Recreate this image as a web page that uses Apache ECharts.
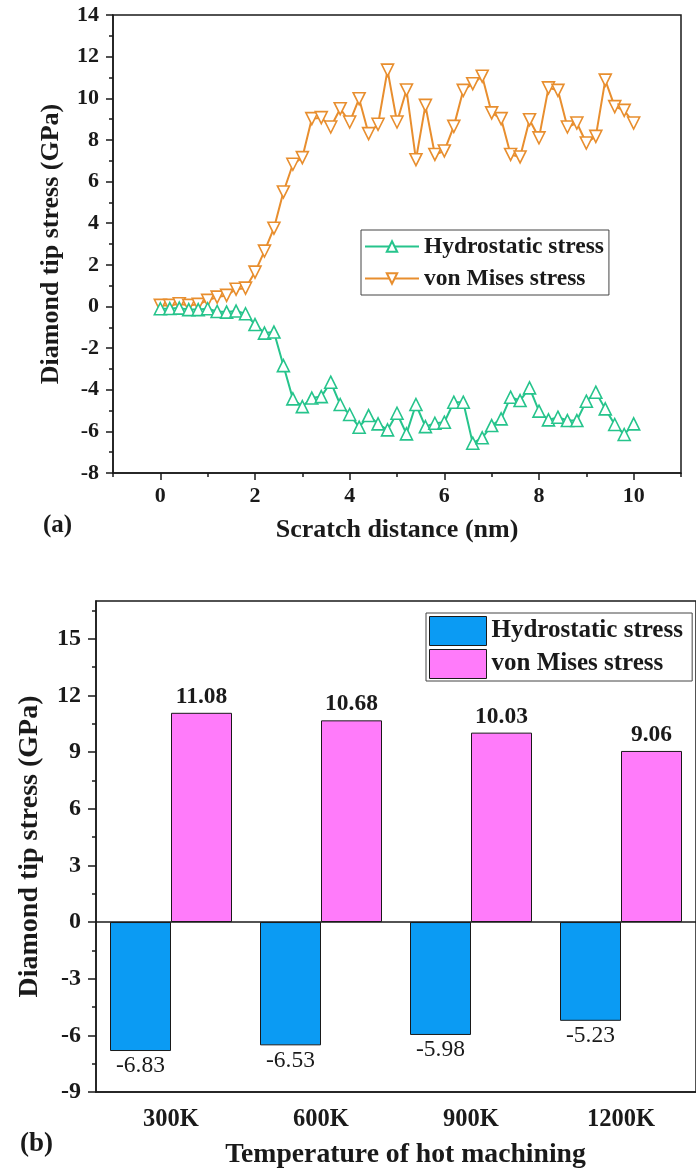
<!DOCTYPE html>
<html><head><meta charset="utf-8">
<script src="https://cdn.jsdelivr.net/npm/echarts@6/dist/echarts.min.js"></script>
<style>html,body{margin:0;padding:0;background:#fff}#c{width:696px;height:1173px}</style>
</head><body><div id="c"></div>
<script>
// ---- panel (a) data ----
const scratchDistance = [0,0.2,0.4,0.6,0.8,1.0,1.2,1.4,1.6,1.8,2.0,2.2,2.4,2.6,2.8,3.0,3.2,3.4,3.6,3.8,4.0,4.2,4.4,4.6,4.8,5.0,5.2,5.4,5.6,5.8,6.0,6.2,6.4,6.6,6.8,7.0,7.2,7.4,7.6,7.8,8.0,8.2,8.4,8.6,8.8,9.0,9.2,9.4,9.6,9.8,10.0];
const hydrostaticLine = [-0.11,-0.1,-0.08,-0.15,-0.15,-0.11,-0.24,-0.27,-0.22,-0.35,-0.87,-1.28,-1.23,-2.84,-4.44,-4.81,-4.4,-4.33,-3.64,-4.71,-5.19,-5.8,-5.24,-5.64,-5.93,-5.13,-6.12,-4.71,-5.77,-5.61,-5.56,-4.6,-4.6,-6.57,-6.31,-5.72,-5.4,-4.36,-4.52,-3.91,-5.03,-5.45,-5.32,-5.48,-5.48,-4.55,-4.12,-4.92,-5.67,-6.15,-5.64];
const vonMisesLine = [0.05,0.05,0.13,0.05,0.1,0.29,0.45,0.53,0.83,0.88,1.65,2.66,3.76,5.5,6.83,7.15,9.02,9.07,8.62,9.5,8.86,9.98,8.3,8.75,11.35,8.86,10.4,7.05,9.66,7.3,7.47,8.65,10.38,10.7,11.06,9.3,9.02,7.3,7.18,8.97,8.1,10.5,10.38,8.62,8.81,7.85,8.17,10.87,9.6,9.42,8.81];
const xTicksA = [0,2,4,6,8,10];
const xMinorTicksA = [-1,1,3,5,7,9,11];
// ---- panel (b) data ----
const temperatures = ['300K','600K','900K','1200K'];
const hydrostaticBar = [-6.83,-6.53,-5.98,-5.23];
const vonMisesBar = [11.08,10.68,10.03,9.06];
const yTicksB = [-9,-6,-3,0,3,6,9,12,15];
const yMinorTicksB = [-7.5,-4.5,-1.5,1.5,4.5,7.5,10.5,13.5,16.5];

const FONT = "'Liberation Serif','Times New Roman',serif";
const INK = '#1a1a1a';
const GREEN = '#26c48c', ORANGE = '#e88e2e', BLUE = '#0b9bf3', PINK = '#ff7bfa';

const chart = echarts.init(document.getElementById('c'), null, {renderer:'canvas'});
const lab = (size, extra) => Object.assign({fontFamily:FONT, fontWeight:'bold', fontSize:size, color:INK}, extra||{});

chart.setOption({
  animation:false,
  backgroundColor:'#fff',
  grid:[
    {left:113, top:15, width:568, height:458, show:true, borderColor:INK, borderWidth:1.5, backgroundColor:'transparent'},
    {left:96, top:601, width:610, height:491, show:true, borderColor:INK, borderWidth:1.5, backgroundColor:'transparent'}
  ],
  legend:[
    {data:['Hydrostatic stress','von Mises stress'], orient:'vertical', left:361, top:230,
     itemWidth:54, itemHeight:13, itemGap:5, padding:[3,5,3,3],
     borderColor:'#444', borderWidth:1, backgroundColor:'#fff',
     textStyle:lab(23.5,{lineHeight:27})},
    {data:[{name:'Hydrostatic stress ', icon:'rect'},{name:'von Mises stress ', icon:'rect'}], orient:'vertical', left:426, top:613,
     itemWidth:57, itemHeight:29, itemGap:3, padding:[3,3,2,3],
     borderColor:'#444', borderWidth:1, backgroundColor:'#fff',
     itemStyle:{borderColor:INK, borderWidth:1},
     textStyle:lab(25,{lineHeight:29})}
  ],
  xAxis:[
    {type:'value', gridIndex:0, min:-1, max:11, position:'bottom',
     name:'Scratch distance (nm)', nameLocation:'middle', nameGap:44, nameTextStyle:lab(26),
     axisLine:{onZero:false, lineStyle:{color:INK, width:1.5}},
     axisTick:{customValues:xTicksA, length:7, lineStyle:{color:INK, width:1.5}},
     axisLabel:{customValues:xTicksA, margin:12, ...lab(22)},
     splitLine:{show:false}},
    {type:'value', gridIndex:0, min:-1, max:11, position:'bottom',
     axisLine:{show:false, onZero:false},
     axisTick:{customValues:xMinorTicksA, length:4, lineStyle:{color:INK, width:1.5}},
     axisLabel:{show:false}, splitLine:{show:false}},
    {type:'category', gridIndex:1, data:temperatures, position:'bottom',
     name:'Temperature of hot machining', nameLocation:'middle', nameGap:49,
     nameTextStyle:lab(27.7,{padding:[0,0,0,19]}),
     axisLine:{onZero:false, lineStyle:{color:INK, width:1.5}},
     axisTick:{alignWithLabel:true, length:7, lineStyle:{color:INK, width:1.5}},
     axisLabel:{margin:15, ...lab(24.5)}},
    {type:'category', gridIndex:1, data:temperatures, position:'bottom',
     axisLine:{show:false, onZero:false},
     axisTick:{length:4, lineStyle:{color:INK, width:1.5}},
     axisLabel:{show:false}}
  ],
  yAxis:[
    {type:'value', gridIndex:0, min:-8, max:14, interval:2, position:'left',
     name:'Diamond tip stress (GPa)', nameLocation:'middle', nameGap:49, nameRotate:90, nameTextStyle:lab(26),
     axisLine:{show:true, onZero:false, lineStyle:{color:INK, width:1.5}},
     axisTick:{show:true, length:7, lineStyle:{color:INK, width:1.5}},
     minorTick:{show:true, splitNumber:2, length:4, lineStyle:{color:INK, width:1.5}},
     axisLabel:{margin:14, ...lab(22)}, splitLine:{show:false}},
    {type:'value', gridIndex:1, min:-9, max:17, position:'left',
     name:'Diamond tip stress (GPa)', nameLocation:'middle', nameGap:52, nameRotate:90, nameTextStyle:lab(28),
     axisLine:{show:true, onZero:false, lineStyle:{color:INK, width:1.5}},
     axisTick:{show:true, customValues:yTicksB, length:8, lineStyle:{color:INK, width:1.5}},
     axisLabel:{customValues:yTicksB, margin:15, ...lab(24)}, splitLine:{show:false}},
    {type:'value', gridIndex:1, min:-9, max:17, position:'left',
     axisLine:{show:false, onZero:false},
     axisTick:{show:true, customValues:yMinorTicksB, length:4, lineStyle:{color:INK, width:1.5}},
     axisLabel:{show:false}, splitLine:{show:false}}
  ],
  graphic:[
    {type:'text', left:43, top:513, style:{text:'(a)', ...lab(25), fill:INK}},
    {type:'text', left:20, top:1131, style:{text:'(b)', ...lab(27), fill:INK}}
  ],
  series:[
    {name:'Hydrostatic stress', type:'line', xAxisIndex:0, yAxisIndex:0,
     data:scratchDistance.map((x,i)=>[x, hydrostaticLine[i]]),
     symbol:'triangle', symbolSize:12, showAllSymbol:true,
     lineStyle:{color:GREEN, width:2}, itemStyle:{color:'#fff', borderColor:GREEN, borderWidth:1.6}, z:3},
    {name:'von Mises stress', type:'line', xAxisIndex:0, yAxisIndex:0,
     data:scratchDistance.map((x,i)=>[x, vonMisesLine[i]]),
     symbol:'triangle', symbolRotate:180, symbolSize:12, showAllSymbol:true,
     lineStyle:{color:ORANGE, width:2}, itemStyle:{color:'#fff', borderColor:ORANGE, borderWidth:1.6}, z:2},
    {name:'Hydrostatic stress ', type:'bar', xAxisIndex:2, yAxisIndex:1, data:hydrostaticBar,
     barWidth:61, barGap:'0%',
     itemStyle:{color:BLUE, borderColor:INK, borderWidth:1},
     label:{show:true, position:'bottom', distance:3, ...lab(23.5,{fontWeight:'normal'})}},
    {name:'von Mises stress ', type:'bar', xAxisIndex:2, yAxisIndex:1, data:vonMisesBar,
     barWidth:61, barGap:'0%',
     itemStyle:{color:PINK, borderColor:INK, borderWidth:1},
     label:{show:true, position:'top', distance:4, ...lab(23.5), formatter:p=>p.value.toFixed(2)},
     markLine:{silent:true, symbol:'none', label:{show:false}, lineStyle:{color:INK, width:1.5, type:'solid'}, data:[{yAxis:0}]}}
  ]
});
</script></body></html>
